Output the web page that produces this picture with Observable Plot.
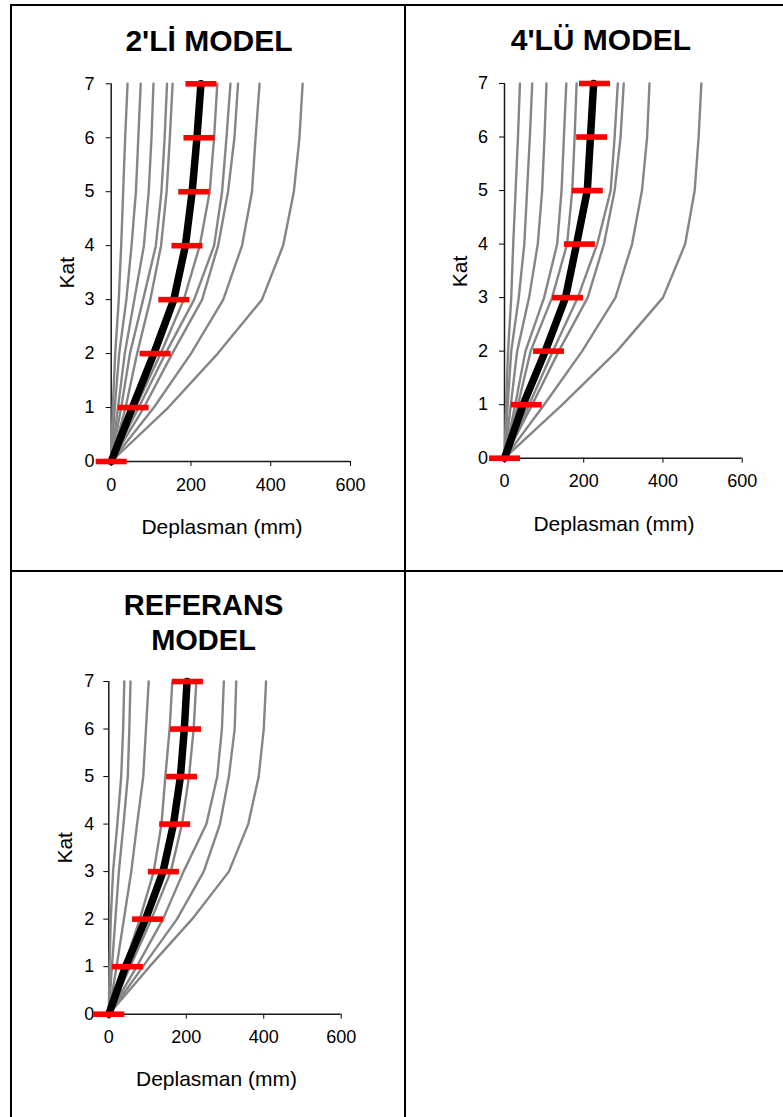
<!DOCTYPE html>
<html>
<head>
<meta charset="utf-8">
<script src="https://cdn.jsdelivr.net/npm/d3@7"></script>
<script src="https://cdn.jsdelivr.net/npm/@observablehq/plot@0.6"></script>
<style>
  html, body { margin: 0; padding: 0; background: #fff; overflow: hidden; }
  #page { position: relative; width: 783px; height: 1117px; background: #fff; }
  .cell { position: absolute; }
  .bd { position: absolute; background: #000; z-index: 5; }
</style>
</head>
<body>
<div id="page">
  <div class="cell" id="p1" style="left:0px;top:0px;width:405px;height:570px"></div>
  <div class="cell" id="p2" style="left:405px;top:0px;width:378px;height:570px"></div>
  <div class="cell" id="p3" style="left:0px;top:570px;width:405px;height:547px"></div>
  <div class="bd" style="left:10px;top:4px;width:773px;height:2px"></div>
  <div class="bd" style="left:10px;top:4px;width:2px;height:1113px"></div>
  <div class="bd" style="left:404px;top:4px;width:2px;height:1113px"></div>
  <div class="bd" style="left:10px;top:570px;width:773px;height:2px"></div>
</div>
<script>
// ---------- data ----------
const floors = [0, 1, 2, 3, 4, 5, 6, 7];
const xTicks = [0, 200, 400, 600];
const yTicks = [0, 1, 2, 3, 4, 5, 6, 7];
const xLabel = "Deplasman (mm)";
const yLabel = "Kat";

// 2'Lİ MODEL
const m2Title = "2'Lİ MODEL";
const m2_g1 = [0, 4, 10, 19, 25, 30, 35, 41];
const m2_g2 = [0, 9, 20, 38, 51, 62, 68, 74];
const m2_g3 = [0, 17, 34, 58, 82, 94, 101, 106];
const m2_g4 = [0, 25, 47, 80, 112, 126, 134, 140];
const m2_g5 = [0, 36, 65, 98, 125, 139, 147, 154];
const m2_g6 = [0, 61, 124, 182, 222, 247, 258, 266];
const m2_g7 = [0, 69, 136, 208, 258, 278, 289, 299];
const m2_g8 = [0, 82, 153, 228, 268, 293, 309, 318];
const m2_g9 = [0, 107, 200, 281, 328, 353, 362, 372];
const m2_g10 = [0, 143, 267, 378, 431, 458, 472, 480];
const m2_mean = [0, 53, 107, 157, 186, 203, 215, 225];
const m2_red = [0, 55, 110, 157, 190, 207, 220, 225];

// 4'LÜ MODEL
const m4Title = "4'LÜ MODEL";
const m4_g1 = [0, 4, 9, 17, 22, 28, 34, 39];
const m4_g2 = [0, 8, 17, 36, 50, 57, 64, 70];
const m4_g3 = [0, 16, 32, 62, 84, 95, 101, 106];
const m4_g4 = [0, 27, 53, 100, 133, 144, 150, 156];
const m4_g5 = [0, 34, 66, 120, 158, 171, 177, 182];
const m4_g6 = [0, 62, 122, 185, 234, 268, 278, 286];
const m4_g7 = [0, 70, 137, 210, 251, 278, 293, 301];
const m4_g8 = [0, 100, 196, 280, 322, 347, 360, 366];
const m4_g9 = [0, 146, 284, 400, 456, 480, 490, 497];
const m4_mean = [0, 47, 103, 154, 182, 209, 217, 225];
const m4_red = [0, 55, 111, 159, 189, 209, 220, 227];

// REFERANS MODEL
const mrTitle = "REFERANS\nMODEL";
const mr_g1 = [0, 2, 5, 11, 22, 32, 37, 40];
const mr_g2 = [0, 8, 17, 26, 38, 49, 53, 56];
const mr_g3 = [0, 20, 39, 58, 73, 89, 96, 103];
const mr_g4 = [0, 40, 80, 116, 136, 146, 157, 164];
const mr_g5 = [0, 55, 110, 160, 189, 207, 219, 226];
const mr_g6 = [0, 72, 140, 193, 252, 280, 292, 297];
const mr_g7 = [0, 88, 176, 245, 287, 310, 325, 329];
const mr_g8 = [0, 105, 215, 310, 360, 387, 400, 406];
const mr_mean = [0, 43, 95, 140, 167, 185, 195, 202];
const mr_red = [0, 48, 100, 141, 170, 188, 198, 203];

// ---------- drawing ----------
const FONT = "'Liberation Sans', Arial, Helvetica, sans-serif";
const toRows = (arr, s) => floors.map((f, i) => ({s, floor: f, v: arr[i]}));
const redBar = {
  draw(ctx) {
    ctx.moveTo(-15.5, -2.8); ctx.lineTo(15.5, -2.8);
    ctx.lineTo(15.5, 2.8); ctx.lineTo(-15.5, 2.8); ctx.closePath();
  }
};

function panel(o) {
  const grayRows = o.gray.flatMap((a, k) => toRows(a, "g" + k));
  const meanRows = toRows(o.mean, "mean");
  const redRows = toRows(o.red, "red");
  return Plot.plot({
    width: o.width, height: o.height,
    marginLeft: o.ml, marginRight: o.mr, marginTop: o.mt, marginBottom: o.mb,
    style: {fontFamily: FONT, fontSize: "18px", background: "transparent", overflow: "visible", color: "#000"},
    x: {domain: [0, 600], ticks: xTicks, tickSize: 5, tickPadding: o.xpad, label: null, tickFormat: d3.format("d")},
    y: {domain: [0, 7], ticks: yTicks, tickSize: 5, tickPadding: o.ypad, label: null, tickFormat: d3.format("d")},
    marks: [
      Plot.ruleX([0], {stroke: "#1a1a1a", strokeWidth: 1.5}),
      Plot.ruleY([0], {stroke: "#1a1a1a", strokeWidth: 1.5}),
      Plot.line(grayRows, {x: "v", y: "floor", z: "s", stroke: "#858585", strokeWidth: 2.4}),
      Plot.line(meanRows, {x: "v", y: "floor", stroke: "#000", strokeWidth: 7.5, strokeLinejoin: "round"}),
      Plot.dot(redRows, {x: "v", y: "floor", symbol: redBar, fill: "#ff0000", stroke: "none"}),
      Plot.text([o.title], {text: d => d, frameAnchor: "top", dx: o.tdx, dy: o.tdy, fontSize: o.tfs, fontWeight: "bold", textAnchor: "middle", lineAnchor: "top", lineHeight: 1.207}),
      Plot.text([xLabel], {text: d => d, frameAnchor: "bottom", dx: o.xdx, dy: o.xdy, fontSize: 21, textAnchor: "middle", lineAnchor: "middle"}),
      Plot.text([yLabel], {text: d => d, frameAnchor: "left", rotate: -90, dx: o.ydx, dy: o.ydy, fontSize: 21, textAnchor: "middle", lineAnchor: "middle"})
    ]
  });
}

document.getElementById("p1").append(panel({
  title: m2Title,
  gray: [m2_g1, m2_g2, m2_g3, m2_g4, m2_g5, m2_g6, m2_g7, m2_g8, m2_g9, m2_g10],
  mean: m2_mean, red: m2_red,
  width: 405, height: 570, ml: 110.7, mr: 55, mt: 83.3, mb: 109,
  xpad: 12, ypad: 11.7,
  tdx: -21.9, tdy: -58.6, tfs: 30,
  xdx: -8.9, xdy: 65.3, ydx: -44.4, ydy: 0
}));
document.getElementById("p2").append(panel({
  title: m4Title,
  gray: [m4_g1, m4_g2, m4_g3, m4_g4, m4_g5, m4_g6, m4_g7, m4_g8, m4_g9],
  mean: m4_mean, red: m4_red,
  width: 378, height: 570, ml: 99, mr: 41.3, mt: 83, mb: 112.3,
  xpad: 11, ypad: 11.5,
  tdx: -22.4, tdy: -58.8, tfs: 30,
  xdx: -9.4, xdy: 65.6, ydx: -44, ydy: 0.6
}));
document.getElementById("p3").append(panel({
  title: mrTitle,
  gray: [mr_g1, mr_g2, mr_g3, mr_g4, mr_g5, mr_g6, mr_g7, mr_g8],
  mean: mr_mean, red: mr_red,
  width: 405, height: 547, ml: 108.3, mr: 64.3, mt: 111, mb: 103.3,
  xpad: 11, ypad: 9.5,
  tdx: -21.5, tdy: -91.6, tfs: 29,
  xdx: -8.5, xdy: 64.6, ydx: -43.3, ydy: 0
}));
</script>
</body>
</html>
